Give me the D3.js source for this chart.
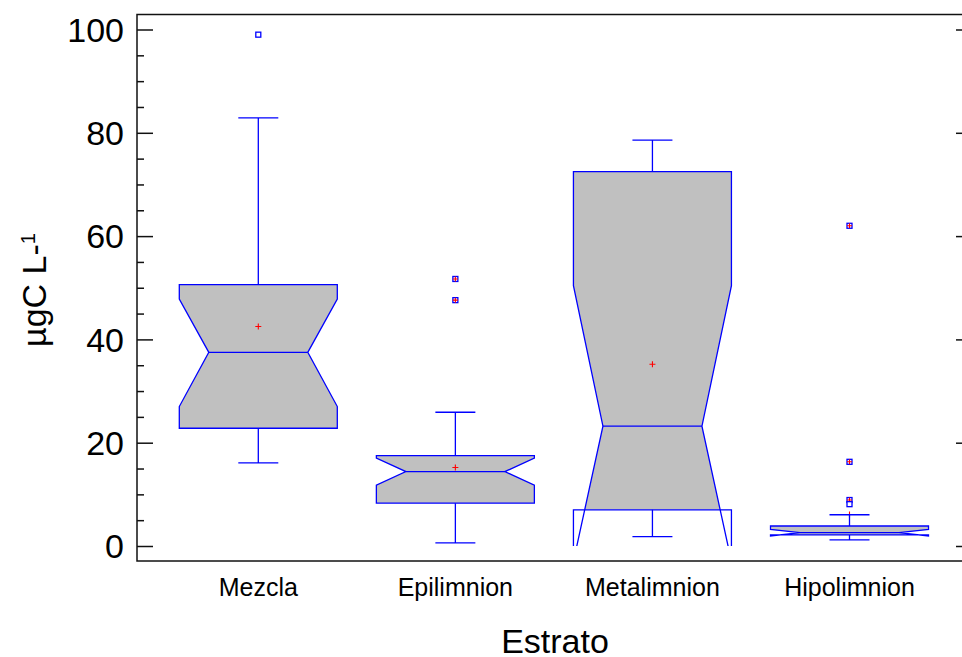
<!DOCTYPE html>
<html>
<head>
<meta charset="utf-8">
<script src="https://cdn.jsdelivr.net/npm/d3@7/dist/d3.min.js"></script>
<style>
  html, body { margin: 0; padding: 0; background: #fff; }
  svg { display: block; }
  text { font-family: "Liberation Sans", Arial, sans-serif; fill: #000; }
</style>
</head>
<body>
<svg id="chart" width="962" height="657"></svg>
<script>
// Dissolved organic carbon by lake stratum (µgC L-1)
const categories = ["Mezcla", "Epilimnion", "Metalimnion", "Hipolimnion"];
const whiskerLow  = [16.1, 0.6, 1.8, 1.2];
const q1          = [22.8, 8.3, 7.0, 2.15];
const notchLow    = [27.0, 11.8, -3.0, 1.95];
const median      = [37.5, 14.4, 23.2, 2.6];
const notchHigh   = [47.8, 17.0, 50.4, 3.2];
const q3          = [50.6, 17.5, 72.5, 3.87];
const whiskerHigh = [82.9, 25.9, 78.6, 6.05];
const means       = [42.5, 15.2, 35.2, 6.1];

// Outlying points: category, value, far-outside flag
const outlierCategory = ["Mezcla", "Epilimnion", "Epilimnion", "Hipolimnion", "Hipolimnion", "Hipolimnion", "Hipolimnion"];
const outlierValue    = [99.0, 51.7, 47.6, 62.0, 16.3, 8.9, 8.1];
const outlierFar      = [false, true, true, true, true, true, false];

const yTicks = [0, 20, 40, 60, 80, 100];
const yMinorTicks = d3.range(0, 101, 5);

const svg = d3.select("#chart");
const frame = { left: 137, top: 14.5, right: 968, bottom: 561 };

const y = d3.scaleLinear().domain([0, 100]).range([546, 29.5]);
const x = d3.scalePoint().domain(categories).range([258.3, 849.5]);

const boxHalf = 79, notchHalf = 49.5, capHalf = 20;
const blue = "#0000ff", red = "#ff0000";

// clip marks to the data region (value 0 and above)
const defs = svg.append("defs");
defs.append("clipPath").attr("id", "plotClip")
  .append("rect")
  .attr("x", frame.left).attr("y", frame.top)
  .attr("width", frame.right - frame.left).attr("height", y(0) - frame.top);

// frame
const frameG = svg.append("g").attr("stroke", "#111").attr("stroke-width", 1.5).attr("fill", "none");
frameG.append("rect")
  .attr("x", frame.left).attr("y", frame.top)
  .attr("width", frame.right - frame.left).attr("height", frame.bottom - frame.top);

// left axis: inward ticks, major every 20, minor every 5
const leftAxis = d3.axisRight(y).tickValues(yMinorTicks.filter(v => v % 20 !== 0)).tickSize(7).tickFormat("");
const gLeftMinor = svg.append("g").attr("transform", `translate(${frame.left},0)`).call(leftAxis);
const gLeftMajor = svg.append("g").attr("transform", `translate(${frame.left},0)`)
  .call(d3.axisRight(y).tickValues(yTicks).tickSize(16).tickFormat(""));
const gRight = svg.append("g").attr("transform", `translate(${frame.right},0)`)
  .call(d3.axisLeft(y).tickValues(yTicks).tickSize(12).tickFormat(""));
[gLeftMinor, gLeftMajor, gRight].forEach(g => {
  g.select(".domain").remove();
  g.selectAll("line").attr("stroke", "#111").attr("stroke-width", 1.5);
});

// y tick labels
svg.append("g").selectAll("text").data(yTicks).join("text")
  .attr("x", 124).attr("y", d => y(d) + 12.3)
  .attr("text-anchor", "end")
  .style("font-size", "34px")
  .text(d => d);

// y title
const yTitle = svg.append("text")
  .attr("transform", "translate(46,290) rotate(-90)")
  .attr("text-anchor", "middle")
  .style("font-size", "34px");
yTitle.append("tspan").text("µgC L-");
yTitle.append("tspan").attr("dy", "-0.55em").style("font-size", "20px").text("1");

// x category labels
svg.append("g").selectAll("text").data(categories).join("text")
  .attr("x", d => x(d)).attr("y", 596)
  .attr("text-anchor", "middle")
  .style("font-size", "25px")
  .text(d => d);

// x title
svg.append("text")
  .attr("x", 555).attr("y", 653)
  .attr("text-anchor", "middle")
  .style("font-size", "34px")
  .text("Estrato");

// boxes
const marks = svg.append("g").attr("clip-path", "url(#plotClip)");

function notchPath(i) {
  const cx = x(categories[i]);
  const p = d3.path();
  p.moveTo(cx - boxHalf, y(q3[i]));
  p.lineTo(cx + boxHalf, y(q3[i]));
  p.lineTo(cx + boxHalf, y(notchHigh[i]));
  p.lineTo(cx + notchHalf, y(median[i]));
  p.lineTo(cx + boxHalf, y(notchLow[i]));
  p.lineTo(cx + boxHalf, y(q1[i]));
  p.lineTo(cx - boxHalf, y(q1[i]));
  p.lineTo(cx - boxHalf, y(notchLow[i]));
  p.lineTo(cx - notchHalf, y(median[i]));
  p.lineTo(cx - boxHalf, y(notchHigh[i]));
  p.closePath();
  return p.toString();
}

categories.forEach((c, i) => {
  const cx = x(c);
  const clipId = "boxClip" + i;
  defs.append("clipPath").attr("id", clipId)
    .append("rect")
    .attr("x", cx - boxHalf - 2).attr("y", y(q3[i]))
    .attr("width", 2 * boxHalf + 4).attr("height", y(q1[i]) - y(q3[i]));

  const g = marks.append("g");
  // grey fill limited to the hinges
  g.append("path").attr("d", notchPath(i))
    .attr("fill", "#c0c0c0").attr("stroke", "none")
    .attr("clip-path", `url(#${clipId})`);

  // mean
  const my = y(means[i]);
  g.append("path")
    .attr("d", `M${cx - 3},${my}H${cx + 3}M${cx},${my - 3}V${my + 3}`)
    .attr("stroke", red).attr("stroke-width", 1.1).attr("fill", "none");

  // outline, median and whiskers
  g.append("path").attr("d", notchPath(i))
    .attr("fill", "none").attr("stroke", blue).attr("stroke-width", 1.3);
  g.append("line")
    .attr("x1", cx - notchHalf).attr("x2", cx + notchHalf)
    .attr("y1", y(median[i])).attr("y2", y(median[i]))
    .attr("stroke", blue).attr("stroke-width", 1.3);
  g.append("path")
    .attr("d", `M${cx},${y(q3[i])}V${y(whiskerHigh[i])}M${cx - capHalf},${y(whiskerHigh[i])}H${cx + capHalf}` +
               `M${cx},${y(q1[i])}V${y(whiskerLow[i])}M${cx - capHalf},${y(whiskerLow[i])}H${cx + capHalf}`)
    .attr("fill", "none").attr("stroke", blue).attr("stroke-width", 1.3);
});

// outliers
const outliers = outlierValue.map((v, i) => ({ cat: outlierCategory[i], value: v, far: outlierFar[i] }));
const og = marks.append("g").selectAll("g").data(outliers).join("g")
  .attr("transform", d => `translate(${x(d.cat)},${y(d.value)})`);
og.append("rect")
  .attr("x", -2.5).attr("y", -2.5).attr("width", 5).attr("height", 5)
  .attr("fill", "#fff").attr("stroke", blue).attr("stroke-width", 1.3);
og.filter(d => d.far).append("path")
  .attr("d", "M-2.5,0H2.5M0,-2.5V2.5")
  .attr("stroke", red).attr("stroke-width", 1.1);
</script>
</body>
</html>
